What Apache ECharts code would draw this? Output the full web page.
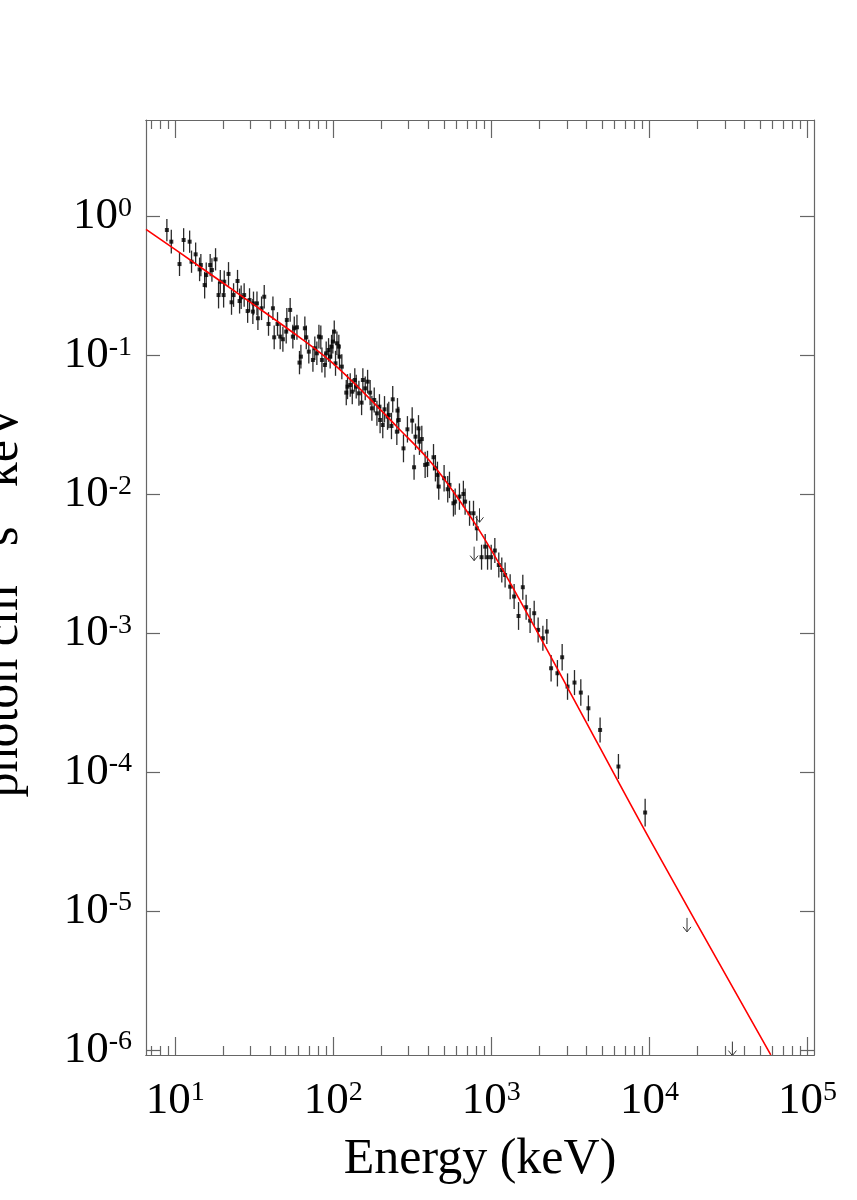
<!DOCTYPE html>
<html>
<head>
<meta charset="utf-8">
<script src="https://cdn.jsdelivr.net/npm/echarts@6/dist/echarts.min.js"></script>
<style>
html, body { margin: 0; padding: 0; background: #fff; }
#chart { width: 857px; height: 1200px; }
</style>
</head>
<body>
<div id="chart"></div>
<script>
// spectrum data points, log10(energy keV) and log10(flux)
const logEnergy = [
  0.947, 0.975, 1.027, 1.053, 1.091, 1.103, 1.129, 1.154, 1.162, 1.186,
  1.196, 1.221, 1.232, 1.255, 1.274, 1.285, 1.306, 1.310, 1.337, 1.356,
  1.369, 1.394, 1.407, 1.417, 1.436, 1.458, 1.470, 1.491, 1.495, 1.517,
  1.523, 1.546, 1.563, 1.590, 1.618, 1.626, 1.647, 1.664, 1.681, 1.702,
  1.706, 1.727, 1.744, 1.753, 1.770, 1.786, 1.795, 1.820, 1.829, 1.845,
  1.871, 1.883, 1.896, 1.909, 1.921, 1.928, 1.947, 1.955, 1.970, 1.980,
  1.989, 1.997, 2.006, 2.014, 2.023, 2.035, 2.039, 2.054, 2.082, 2.090,
  2.107, 2.120, 2.136, 2.145, 2.162, 2.179, 2.187, 2.202, 2.217, 2.233,
  2.244, 2.259, 2.276, 2.292,
  2.296, 2.313, 2.324, 2.343, 2.351, 2.368, 2.376, 2.402, 2.406, 2.414,
  2.444, 2.469, 2.499, 2.511, 2.520, 2.539, 2.545, 2.560, 2.581, 2.596,
  2.634, 2.646, 2.659, 2.667, 2.701, 2.724, 2.735, 2.760, 2.771, 2.798,
  2.823, 2.834,
  2.862, 2.887, 2.908, 2.938, 2.961, 2.976, 2.999, 3.022, 3.047, 3.066,
  3.087, 3.119, 3.144, 3.172, 3.199, 3.220, 3.245, 3.271, 3.296, 3.326,
  3.351, 3.378, 3.418, 3.448, 3.482, 3.526, 3.566, 3.614, 3.688, 3.804,
  3.973
];
const logFlux = [
  -0.096, -0.180, -0.341, -0.168, -0.180, -0.324, -0.271, -0.379, -0.348, -0.492,
  -0.420, -0.348, -0.384, -0.307, -0.564, -0.468, -0.564, -0.468, -0.412, -0.616,
  -0.564, -0.463, -0.607, -0.580, -0.564, -0.679, -0.600, -0.683, -0.624, -0.624,
  -0.731, -0.659, -0.576, -0.772, -0.659, -0.868, -0.772, -0.863, -0.882, -0.827,
  -0.743, -0.671, -0.863, -0.803, -0.796, -1.050, -1.007, -0.803, -0.868, -0.971,
  -1.031, -0.947, -0.983, -0.863, -0.868, -1.031, -1.067, -0.983, -0.959, -1.007,
  -0.935, -0.899, -0.827, -1.055, -0.911, -0.935, -1.007, -1.079, -1.266, -1.223,
  -1.211, -1.259, -1.175, -1.223, -1.271, -1.338, -1.175, -1.235, -1.187, -1.266,
  -1.379, -1.319, -1.415, -1.367,
  -1.463, -1.499, -1.386, -1.439, -1.427, -1.506, -1.314, -1.547, -1.395, -1.463,
  -1.667, -1.530, -1.467, -1.803, -1.583, -1.523, -1.619, -1.600, -1.786, -1.779,
  -1.731, -1.810, -1.858, -1.942, -1.882, -1.961, -1.930, -2.062, -2.050, -2.014,
  -1.995, -2.050,
  -2.134, -2.134, -2.242, -2.450, -2.374, -2.450, -2.450, -2.402, -2.506, -2.542,
  -2.578, -2.662, -2.733, -2.873, -2.666, -2.810, -2.906, -2.853, -2.973, -3.033,
  -2.985, -3.249, -3.285, -3.170, -3.381, -3.352, -3.424, -3.537, -3.693, -3.956,
  -4.287
];
// half length of the error bars, in decades
const logErr = [
  0.080, 0.085, 0.086, 0.085, 0.080, 0.080, 0.085, 0.085, 0.080, 0.096,
  0.090, 0.080, 0.085, 0.080, 0.096, 0.085, 0.090, 0.080, 0.085, 0.090,
  0.085, 0.080, 0.090, 0.085, 0.085, 0.085, 0.085, 0.090, 0.085, 0.085,
  0.085, 0.085, 0.085, 0.085, 0.085, 0.085, 0.085, 0.090, 0.090, 0.085,
  0.085, 0.085, 0.085, 0.085, 0.090, 0.084, 0.085, 0.085, 0.085, 0.085,
  0.085, 0.085, 0.085, 0.085, 0.085, 0.090, 0.090, 0.085, 0.085, 0.085,
  0.085, 0.085, 0.080, 0.090, 0.085, 0.085, 0.090, 0.090, 0.090, 0.090,
  0.085, 0.090, 0.085, 0.085, 0.090, 0.090, 0.085, 0.085, 0.085, 0.090,
  0.090, 0.090, 0.090, 0.090,
  0.095, 0.095, 0.095, 0.095, 0.095, 0.095, 0.095, 0.095, 0.090, 0.095,
  0.100, 0.095, 0.095, 0.090, 0.095, 0.095, 0.095, 0.095, 0.095, 0.095,
  0.095, 0.095, 0.095, 0.095, 0.095, 0.095, 0.095, 0.095, 0.095, 0.095,
  0.095, 0.095,
  0.090, 0.090, 0.090, 0.090, 0.090, 0.090, 0.090, 0.090, 0.090, 0.090,
  0.090, 0.090, 0.090, 0.100, 0.090, 0.090, 0.090, 0.090, 0.090, 0.090,
  0.090, 0.095, 0.095, 0.095, 0.095, 0.090, 0.095, 0.093, 0.090, 0.090,
  0.100
];

// upper limits (arrows), log10 values
const ulLogEnergy = [2.891, 2.925, 4.238, 4.525];
const ulLogFlux = [-2.374, -2.098, -5.045, -5.935];

// fitted model curve
const modelLogEnergy = [0.815, 1.158, 1.474, 1.791, 1.980, 2.189, 2.404, 2.594, 2.720, 2.910, 3.119, 3.480, 4.004, 4.768];
const modelLogFlux = [-0.091, -0.362, -0.615, -0.872, -1.038, -1.262, -1.513, -1.736, -1.916, -2.232, -2.635, -3.384, -4.484, -6.031];

const xMin = 6.53, xMax = 1.1e5;
const yMin = 9.3e-7, yMax = 4.96;
const xMajor = [10, 100, 1000, 10000, 100000];
const yMajor = [1e-6, 1e-5, 1e-4, 1e-3, 1e-2, 1e-1, 1];

const xMinor = [];
[1, 10, 100, 1000, 10000].forEach(d => {
  for (let k = 2; k <= 9; k++) {
    if (k * d > xMin && k * d < xMax) xMinor.push(k * d);
  }
});

const pts = logEnergy.map((le, i) => [Math.pow(10, le), Math.pow(10, logFlux[i])]);
const bars = logEnergy.map((le, i) => [
  Math.pow(10, le),
  Math.pow(10, logFlux[i] - logErr[i]),
  Math.pow(10, logFlux[i] + logErr[i])
]);
const uls = ulLogEnergy.map((le, i) => [Math.pow(10, le), Math.pow(10, ulLogFlux[i])]);
const model = modelLogEnergy.map((le, i) => [Math.pow(10, le), Math.pow(10, modelLogFlux[i])]);

const font = 'Liberation Serif';
const frame = { color: '#666', width: 1.2 };
const powLabel = v => '{m|10}{s|' + Math.round(Math.log10(v)) + '}';
const labelRich = {
  m: { fontFamily: font, fontSize: 45, lineHeight: 45, color: '#000', padding: [5, 0, 5, 0] },
  s: { fontFamily: font, fontSize: 28, lineHeight: 28, color: '#000', verticalAlign: 'top' }
};

function xAxisDef(pos, ticks, len, withLabel) {
  return {
    type: 'log', logBase: 10, position: pos, min: xMin, max: xMax,
    axisLine: { show: true, onZero: false, lineStyle: frame },
    axisTick: { show: true, inside: true, length: len, customValues: ticks, lineStyle: frame },
    axisLabel: withLabel ? {
      show: true, customValues: ticks, margin: 24, formatter: powLabel, rich: labelRich
    } : { show: false },
    splitLine: { show: false },
    minorTick: { show: false }
  };
}

function yAxisDef(pos, withLabel) {
  return {
    type: 'log', logBase: 10, position: pos, min: yMin, max: yMax,
    axisLine: { show: true, onZero: false, lineStyle: frame },
    axisTick: { show: true, inside: true, length: 14, customValues: yMajor, lineStyle: frame },
    axisLabel: withLabel ? {
      show: true, customValues: yMajor, margin: 14, formatter: powLabel, rich: labelRich
    } : { show: false },
    splitLine: { show: false }
  };
}

const xBottom = xAxisDef('bottom', xMajor, 18, true);
xBottom.name = 'Energy (keV)';
xBottom.nameLocation = 'middle';
xBottom.nameGap = 80;
xBottom.nameTextStyle = { fontFamily: font, fontSize: 50, lineHeight: 50, color: '#000' };

const yLeft = yAxisDef('left', true);
yLeft.name = 'photon cm{s|-2} s{s|-1} keV{s|-1}';
yLeft.nameLocation = 'middle';
yLeft.nameRotate = 90;
yLeft.nameGap = 107;
yLeft.nameTextStyle = {
  fontFamily: font, fontSize: 50, lineHeight: 70, color: '#000',
  rich: { s: { fontFamily: font, fontSize: 32, lineHeight: 32, color: '#000', verticalAlign: 'top' } }
};

const chart = echarts.init(document.getElementById('chart'), null, { renderer: 'canvas' });

chart.setOption({
  animation: false,
  backgroundColor: '#fff',
  grid: { left: 146, right: 43, top: 120, bottom: 145, outerBoundsMode: 'none' },
  xAxis: [
    xBottom,
    xAxisDef('bottom', xMinor, 9, false),
    xAxisDef('top', xMajor, 18, false),
    xAxisDef('top', xMinor, 9, false)
  ],
  yAxis: [yLeft, yAxisDef('right', false)],
  series: [
    {
      type: 'custom',
      name: 'errors',
      clip: true,
      data: bars,
      encode: { x: 0, y: [1, 2] },
      renderItem: function (params, api) {
        const e = api.value(0);
        const lo = api.coord([e, api.value(1)]);
        const hi = api.coord([e, api.value(2)]);
        return {
          type: 'line',
          shape: { x1: lo[0], y1: lo[1], x2: hi[0], y2: hi[1] },
          style: { stroke: '#2a2a2a', lineWidth: 1.3 }
        };
      },
      z: 2
    },
    {
      type: 'scatter',
      name: 'data',
      data: pts,
      symbol: 'rect',
      symbolSize: [4, 4],
      itemStyle: { color: '#000' },
      z: 3
    },
    {
      type: 'custom',
      name: 'upper limits',
      clip: true,
      data: uls,
      encode: { x: 0, y: 1 },
      renderItem: function (params, api) {
        const p = api.coord([api.value(0), api.value(1)]);
        const len = 14;
        return {
          type: 'group',
          children: [
            {
              type: 'line',
              shape: { x1: p[0], y1: p[1], x2: p[0], y2: p[1] + len },
              style: { stroke: '#333', lineWidth: 1 }
            },
            {
              type: 'polyline',
              shape: { points: [[p[0] - 4, p[1] + len - 5], [p[0], p[1] + len], [p[0] + 4, p[1] + len - 5]] },
              style: { stroke: '#333', fill: null, lineWidth: 1 }
            }
          ]
        };
      },
      z: 3
    },
    {
      type: 'line',
      name: 'model',
      data: model,
      smooth: 0.35,
      showSymbol: false,
      symbol: 'none',
      lineStyle: { color: '#ff0000', width: 1.6 },
      clip: true,
      z: 4
    }
  ]
});
</script>
</body>
</html>
